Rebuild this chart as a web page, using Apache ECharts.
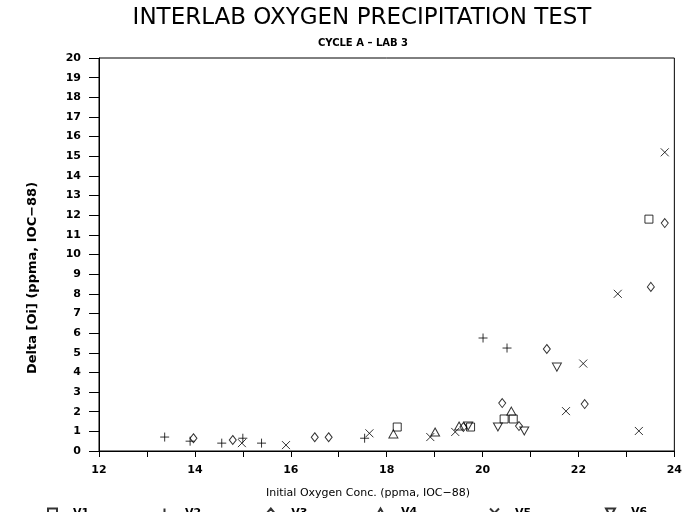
<!DOCTYPE html>
<html><head><meta charset="utf-8">
<script src="https://cdn.jsdelivr.net/npm/echarts@6/dist/echarts.min.js"></script>
<style>html,body{margin:0;padding:0;background:#fff}#c{width:685px;height:512px}</style>
</head><body><div id="c"></div>
<script>
const seriesNames = ['V1','V2','V3','V4','V5','V6'];
const V1 = [[18.22,1.22],[19.75,1.22],[20.45,1.63],[20.64,1.63],[23.47,11.8]];
const V2 = [[13.37,0.71],[13.9,0.5],[14.56,0.4],[15.0,0.65],[15.39,0.4],[17.54,0.65],[20.01,5.75],[20.51,5.24]];
const V3 = [[13.97,0.65],[14.79,0.56],[16.5,0.7],[16.79,0.7],[19.6,1.22],[20.41,2.44],[20.76,1.27],[21.34,5.19],[22.13,2.39],[23.51,8.35],[23.8,11.6]];
const V4 = [[18.14,0.87],[19.01,0.97],[19.51,1.27],[20.6,2.03]];
const V5 = [[14.98,0.4],[15.9,0.3],[17.64,0.9],[18.91,0.71],[19.43,0.97],[21.74,2.03],[22.1,4.45],[22.82,8.0],[23.26,1.02],[23.8,15.2]];
const V6 = [[19.7,1.27],[20.32,1.22],[20.87,1.02],[21.55,4.27]];
const seriesData = [V1,V2,V3,V4,V5,V6];

const titleText = 'INTERLAB OXYGEN PRECIPITATION TEST';
const subtitleText = 'CYCLE A \u2013 LAB 3';
const xTitle = 'Initial Oxygen Conc. (ppma, IOC\u221288)';
const yTitle = 'Delta [Oi] (ppma, IOC\u221288)';

const symbols = [
  'path://M0,0H10V10H0Z',
  'path://M0,5H10M5,0V10',
  'path://M5,0L10,6L5,12L0,6Z',
  'path://M5,0L10,9L0,9Z',
  'path://M0,0L10,10M10,0L0,10',
  'path://M0,0L10,0L5,9Z'
];
const sizes = [[8,8],[9,9],[7,9],[9,8],[8,8],[9,8]];
const legendX = [45,157,264,373,487,603];

const chart = echarts.init(document.getElementById('c'), null, {renderer:'canvas'});
const font = 'DejaVu Sans';
chart.setOption({
  animation:false,
  backgroundColor:'#fff',
  grid:{left:99,right:9,top:58,bottom:61,show:true,borderColor:'#000',borderWidth:1,backgroundColor:'transparent'},
  xAxis:{type:'value',min:12,max:24,interval:1,
    axisLine:{lineStyle:{color:'#000',width:1}},
    axisTick:{inside:false,length:6,lineStyle:{color:'#000'}},
    axisLabel:{interval:1,margin:14,color:'#000',fontFamily:font,fontWeight:'bold',fontSize:11,
      formatter:v=> (v%2===0? String(v):'')},
    splitLine:{show:false}},
  yAxis:{type:'value',min:0,max:20,interval:1,
    axisLine:{lineStyle:{color:'#000',width:1}},
    axisTick:{inside:false,length:10,lineStyle:{color:'#000'}},
    axisLabel:{margin:18,color:'#000',fontFamily:font,fontWeight:'bold',fontSize:11},
    splitLine:{show:false}},
  legend: seriesNames.map((n,i)=>({data:[n],left:legendX[i]-4.5,top:501,itemWidth:9,itemHeight:9,
    selectedMode:false,textStyle:{color:'#000',fontFamily:font,fontWeight:'bold',fontSize:11,padding:[0,0,0,11]}})),
  graphic:[
    {type:'text',x:362,y:18,style:{text:titleText,textAlign:'center',textVerticalAlign:'middle',font:'23px "DejaVu Sans"',fill:'#000'}},
    {type:'text',x:363,y:43,style:{text:subtitleText,textAlign:'center',textVerticalAlign:'middle',font:'bold 10px "DejaVu Sans"',fill:'#000'}},
    {type:'text',x:368,y:493,style:{text:xTitle,textAlign:'center',textVerticalAlign:'middle',font:'11px "DejaVu Sans"',fill:'#000'}},
    {type:'text',x:33,y:278,rotation:Math.PI/2,style:{text:yTitle,textAlign:'center',textVerticalAlign:'middle',font:'bold 13px "DejaVu Sans"',fill:'#000'}}
  ],
  series: seriesNames.map((n,i)=>({name:n,type:'scatter',data:seriesData[i],symbol:symbols[i],symbolSize:sizes[i],
    itemStyle:{color:'none',borderColor:'#000',borderWidth:1},emphasis:{disabled:true},silent:true}))
});
</script></body></html>
